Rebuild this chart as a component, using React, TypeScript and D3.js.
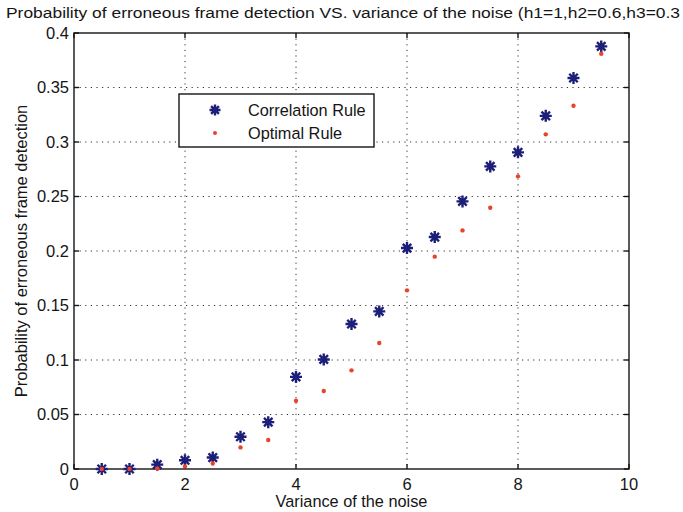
import React, { useEffect, useRef } from "react";
import * as d3 from "d3";

const xs = [0.5, 1, 1.5, 2, 2.5, 3, 3.5, 4, 4.5, 5, 5.5, 6, 6.5, 7, 7.5, 8, 8.5, 9, 9.5];
const correlation = [0, 0, 0.004, 0.008, 0.0105, 0.0296, 0.043, 0.0845, 0.1005, 0.133, 0.1446, 0.2027, 0.2128, 0.2455, 0.2776, 0.2905, 0.324, 0.3587, 0.3877];
const optimal = [0, 0, 0.0005, 0.0024, 0.005, 0.0198, 0.0266, 0.0626, 0.0715, 0.0905, 0.1156, 0.1639, 0.1948, 0.2189, 0.2397, 0.2685, 0.307, 0.3333, 0.381];
const xTicks = [0, 2, 4, 6, 8, 10];
const yTicks = [0, 0.05, 0.1, 0.15, 0.2, 0.25, 0.3, 0.35, 0.4];
const seriesNames = ["Correlation Rule", "Optimal Rule"];
const title = "Probability of erroneous frame detection VS. variance of the noise (h1=1,h2=0.6,h3=0.3";
const xLabel = "Variance of the noise";
const yLabel = "Probability of erroneous frame detection";

export default function App() {
  const ref = useRef<SVGSVGElement>(null);
  useEffect(() => {
    const svg = d3.select(ref.current);
    svg.selectAll("*").remove();
    const W = 683, H = 512;
    const left = 74, right = 629, top = 33, bottom = 469;
    const x = d3.scaleLinear().domain([0, 10]).range([left, right]);
    const y = d3.scaleLinear().domain([0, 0.4]).range([bottom, top]);
    const font = "'Liberation Sans', Arial, Helvetica, sans-serif";
    const ink = "#151515";

    svg.append("rect").attr("width", W).attr("height", H).attr("fill", "white");

    // grid
    const g = svg.append("g");
    g.selectAll(".vg").data(xTicks.slice(1, -1)).enter().append("line")
      .attr("x1", d => x(d)).attr("x2", d => x(d)).attr("y1", top).attr("y2", bottom)
      .attr("stroke", "#333").attr("stroke-width", 1).attr("stroke-dasharray", "1.2,4.4");
    g.selectAll(".hg").data(yTicks.slice(1, -1)).enter().append("line")
      .attr("y1", d => y(d)).attr("y2", d => y(d)).attr("x1", left).attr("x2", right)
      .attr("stroke", "#333").attr("stroke-width", 1).attr("stroke-dasharray", "1.2,4.4");

    // box
    svg.append("rect").attr("x", left).attr("y", top).attr("width", right - left).attr("height", bottom - top)
      .attr("fill", "none").attr("stroke", ink).attr("stroke-width", 1.4);

    // ticks
    const tl = 5;
    xTicks.forEach(t => {
      svg.append("line").attr("x1", x(t)).attr("x2", x(t)).attr("y1", bottom).attr("y2", bottom - tl).attr("stroke", ink).attr("stroke-width", 1.4);
      svg.append("line").attr("x1", x(t)).attr("x2", x(t)).attr("y1", top).attr("y2", top + tl).attr("stroke", ink).attr("stroke-width", 1.4);
      svg.append("text").attr("x", x(t)).attr("y", bottom + 21).attr("text-anchor", "middle")
        .attr("font-family", font).attr("font-size", 16.5).attr("fill", ink).text(String(t));
    });
    yTicks.forEach(t => {
      svg.append("line").attr("x1", left).attr("x2", left + tl).attr("y1", y(t)).attr("y2", y(t)).attr("stroke", ink).attr("stroke-width", 1.4);
      svg.append("line").attr("x1", right).attr("x2", right - tl).attr("y1", y(t)).attr("y2", y(t)).attr("stroke", ink).attr("stroke-width", 1.4);
      svg.append("text").attr("x", left - 5).attr("y", y(t) + 5.5).attr("text-anchor", "end")
        .attr("font-family", font).attr("font-size", 16.5).attr("fill", ink).text(String(t));
    });

    // points
    const starPath = (s: number) => {
      const r = s / 2;
      const a = r * Math.SQRT1_2;
      return `M${-r},0L${r},0M0,${-r}L0,${r}M${-a},${-a}L${a},${a}M${-a},${a}L${a},${-a}`;
    };
    const blue = "#1c1f78";
    const red = "#e8432c";
    svg.append("g").selectAll("path").data(xs).enter().append("path")
      .attr("d", starPath(12))
      .attr("transform", (d, i) => `translate(${x(d)},${y(correlation[i])})`)
      .attr("stroke", blue).attr("stroke-width", 2.4).attr("fill", "none");
    svg.append("g").selectAll("circle").data(xs).enter().append("circle")
      .attr("cx", d => x(d)).attr("cy", (d, i) => y(optimal[i])).attr("r", 2.2)
      .attr("fill", red);

    // legend
    const lg = svg.append("g");
    lg.append("rect").attr("x", 179).attr("y", 94).attr("width", 195).attr("height", 53)
      .attr("fill", "white").attr("stroke", ink).attr("stroke-width", 1.4);
    lg.append("path").attr("d", starPath(11)).attr("transform", "translate(215,110)")
      .attr("stroke", blue).attr("stroke-width", 2.4).attr("fill", "none");
    lg.append("circle").attr("cx", 215).attr("cy", 133).attr("r", 2).attr("fill", red);
    lg.append("text").attr("x", 248).attr("y", 116).attr("font-family", font).attr("font-size", 16.3).attr("fill", ink).text(seriesNames[0]);
    lg.append("text").attr("x", 248).attr("y", 139).attr("font-family", font).attr("font-size", 16.3).attr("fill", ink).text(seriesNames[1]);

    // labels
    svg.append("text").attr("x", 6).attr("y", 18).attr("font-family", font).attr("font-size", 15.5)
      .attr("fill", ink).attr("textLength", 674).attr("lengthAdjust", "spacingAndGlyphs").text(title);
    svg.append("text").attr("x", (left + right) / 2).attr("y", 507).attr("text-anchor", "middle")
      .attr("font-family", font).attr("font-size", 16.3).attr("fill", ink).text(xLabel);
    svg.append("text").attr("transform", `translate(27,${(top + bottom) / 2}) rotate(-90)`).attr("text-anchor", "middle")
      .attr("font-family", font).attr("font-size", 16.5).attr("fill", ink).text(yLabel);
  }, []);
  return <svg ref={ref} width={683} height={512} style={{ position: "absolute", left: 0, top: 0 }} />;
}
